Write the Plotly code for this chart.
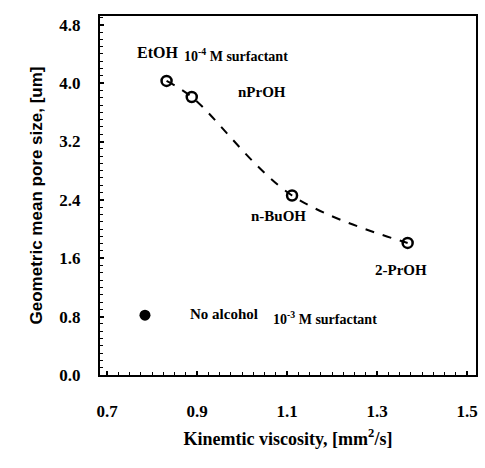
import plotly.graph_objects as go

# Data
alcohols = ["EtOH", "nPrOH", "n-BuOH", "2-PrOH"]
viscosity = [0.832, 0.888, 1.111, 1.368]
pore_size = [4.03, 3.81, 2.46, 1.81]
no_alc_visc = [0.784]
no_alc_pore = [0.82]
x_ticks = [0.7, 0.9, 1.1, 1.3, 1.5]
y_ticks = [0.0, 0.8, 1.6, 2.4, 3.2, 4.0, 4.8]

serif = "Liberation Serif, Times New Roman, serif"

fig = go.Figure()
fig.add_trace(go.Scatter(x=viscosity, y=pore_size, mode="lines",
                         line=dict(color="black", width=2, dash="dash", shape="spline", smoothing=1.0),
                         hoverinfo="skip", showlegend=False))
fig.add_trace(go.Scatter(x=viscosity, y=pore_size, mode="markers",
                         marker=dict(symbol="circle-open", size=10, color="black", line=dict(width=2.5, color="black")),
                         showlegend=False))
fig.add_trace(go.Scatter(x=no_alc_visc, y=no_alc_pore, mode="markers",
                         marker=dict(symbol="circle", size=11, color="black"),
                         showlegend=False))

def ann(x, y, text, size=15):
    fig.add_annotation(x=x, y=y, xref="x", yref="y", text=text, showarrow=False,
                       font=dict(family=serif, size=size, color="black"), xanchor="left", yanchor="middle")

ann(0.761, 4.42, "<b>EtOH</b>", 16)
ann(0.866, 4.39, "<b>10<sup>-4</sup> M surfactant</b>", 14)
ann(0.987, 3.88, "<b>nPrOH</b>", 15)
ann(1.016, 2.18, "<b>n-BuOH</b>", 15)
ann(1.292, 1.44, "<b>2-PrOH</b>", 15)
ann(0.879, 0.83, "<b>No alcohol</b>", 15)
ann(1.065, 0.78, "<b>10<sup>-3</sup> M surfactant</b>", 14)

axis_common = dict(showline=True, linecolor="black", linewidth=2, mirror=True,
                   showgrid=False, zeroline=False, ticks="inside", ticklen=4, tickwidth=1.5,
                   tickcolor="black",
                   minor=dict(ticks="inside", ticklen=3, tickwidth=1, tickcolor="black", showgrid=False),
                   tickfont=dict(family=serif, size=17, color="black"))

fig.update_xaxes(range=[0.684, 1.52], tickvals=x_ticks, ticktext=[f"<b>{v:.1f}</b>" for v in x_ticks],
                 minor_dtick=0.025,
                 title=dict(text="<b>Kinemtic viscosity, [mm<sup>2</sup>/s]</b>",
                            font=dict(family=serif, size=18, color="black"), standoff=12),
                 ticklabelstandoff=20, **axis_common)
fig.update_yaxes(range=[0, 4.92], tickvals=y_ticks, ticktext=[f"<b>{v:.1f}</b>" for v in y_ticks],
                 minor_dtick=0.1,
                 title=dict(text="<b>Geometric mean pore size, [um]</b>",
                            font=dict(family="Liberation Sans, Arial, sans-serif", size=17, color="black"),
                            standoff=12),
                 ticklabelstandoff=14, **axis_common)

fig.update_layout(width=485, height=468, margin=dict(l=100, r=7, t=16, b=93),
                  plot_bgcolor="white", paper_bgcolor="white", showlegend=False)

fig.write_html("out.html")
